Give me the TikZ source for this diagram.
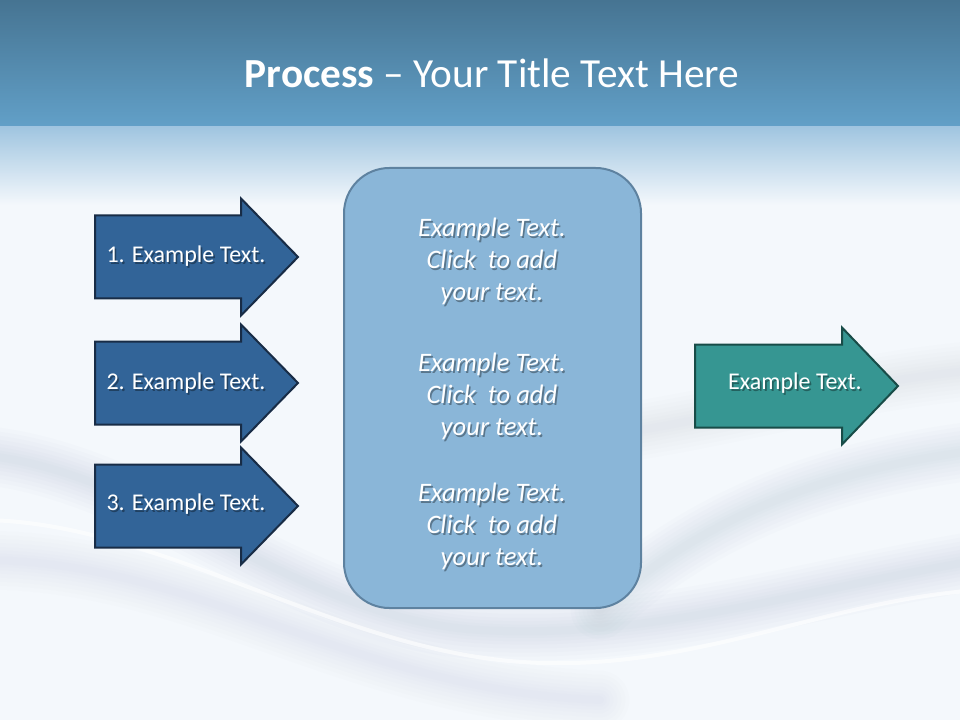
\documentclass[tikz,border=0pt]{standalone}
\usepackage{fontspec}
\setmainfont{Carlito}
\begin{document}
\definecolor{bgbase}{RGB}{244,248,252}
\definecolor{hdtop}{RGB}{70,116,146}
\definecolor{hdbot}{RGB}{98,160,200}
\definecolor{fadetop}{RGB}{160,197,224}
\definecolor{wavegray}{RGB}{160,178,198}
\definecolor{arrowblue}{RGB}{50,100,152}
\definecolor{arrowedge}{RGB}{24,44,70}
\definecolor{tealfill}{RGB}{54,150,146}
\definecolor{tealedge}{RGB}{24,76,72}
\definecolor{boxfill}{RGB}{138,182,216}
\definecolor{boxedge}{RGB}{94,130,160}
\newcommand{\procarrow}[5]{%
  \draw[#1] (#2,#3-41.5) -- (#4,#3-41.5) -- (#4,#3-58.5) -- (#5,#3)
    -- (#4,#3+58.5) -- (#4,#3+41.5) -- (#2,#3+41.5) -- cycle;}
\begin{tikzpicture}[x=0.75pt,y=-0.75pt,
  bluearrow/.style={fill=arrowblue,draw=arrowedge,line width=1.5pt,line join=miter},
  tealarrow/.style={fill=tealfill,draw=tealedge,line width=1.5pt,line join=miter},
  arrowtext/.style={text=white,font=\fontsize{18}{21.6}\selectfont,inner sep=0pt},
  boxtext/.style={text=white,align=center,font=\fontsize{20}{24}\selectfont\itshape,inner sep=0pt},
  shadowtext/.style={text=black,opacity=0.35,xshift=1.2pt,yshift=-1.5pt},
  wave/.style={draw=wavegray,line cap=round}
]
\useasboundingbox (0,0) rectangle (960,720);
% background
\fill[bgbase] (0,0) rectangle (960,720);
\shade[top color=hdtop,bottom color=hdbot] (0,0) rectangle (960,127);
\shade[top color=fadetop,bottom color=bgbase] (0,127) rectangle (960,205);
% waves
\foreach \w in {44,38,32,26,20,15,10,6}{
  \draw[wave,line width=\w pt,opacity=0.035] (-20,455) .. controls (150,470) and (300,620) .. (480,630) .. controls (650,640) and (800,590) .. (980,560);
  \draw[wave,line width=\w pt,opacity=0.03] (600,610) .. controls (700,520) and (820,470) .. (980,450);
  \draw[wave,line width=\w pt,opacity=0.025] (640,430) .. controls (760,410) and (860,380) .. (980,370);
  \draw[wave,line width=\w pt,opacity=0.02] (-20,560) .. controls (200,560) and (350,690) .. (600,700);
}
\draw[white,line width=3pt,opacity=0.6] (-20,520) .. controls (150,520) and (320,640) .. (500,660) .. controls (680,680) and (820,600) .. (980,590);
% left arrows
\procarrow{bluearrow}{95}{257}{241}{298}
\procarrow{bluearrow}{95}{383}{241}{298}
\procarrow{bluearrow}{95}{506}{241}{298}
\node[arrowtext,shadowtext] (t1s) at (186,256) {1. Example Text.};
\node[arrowtext] (t1) at (186,256) {1. Example Text.};
\node[arrowtext,shadowtext] (t2s) at (186,383) {2. Example Text.};
\node[arrowtext] (t2) at (186,383) {2. Example Text.};
\node[arrowtext,shadowtext] (t3s) at (186,504) {3. Example Text.};
\node[arrowtext] (t3) at (186,504) {3. Example Text.};
% right arrow
\procarrow{tealarrow}{695}{386}{842}{898}
\node[arrowtext,shadowtext] (r1s) at (795,383) {Example Text.};
\node[arrowtext] (r1) at (795,383) {Example Text.};
% center box
\draw[fill=boxfill,draw=boxedge,line width=1.5pt,rounded corners=34pt] (344,168) rectangle (641,608);
\foreach \n/\y in {b1/261,b2/396,b3/526}{
  \node[boxtext,shadowtext] (\n s) at (492,\y) {Example Text.\\Click\ \ to add\\your text.};
  \node[boxtext] (\n) at (492,\y) {Example Text.\\Click\ \ to add\\your text.};
}
% title
\node[text=white,anchor=base,font=\fontsize{31}{37}\selectfont,inner sep=0pt] (title) at (492,88) {\textbf{Process} -- Your Title Text Here};
\end{tikzpicture}
\end{document}
